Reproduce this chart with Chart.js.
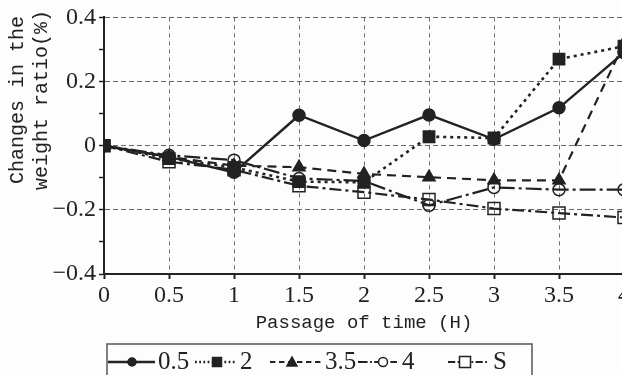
<!DOCTYPE html>
<html>
<head>
<meta charset="utf-8">
<script src="https://cdn.jsdelivr.net/npm/chart.js@4.4.1/dist/chart.umd.min.js"></script>
<style>
	html, body { margin: 0; padding: 0; background: #fdfdfd; overflow: hidden; }
	#wrap { position: relative; width: 660px; height: 375px; }
</style>
</head>
<body>
<div id="wrap"><canvas id="chart"></canvas></div>
<script>
'use strict';

// Data
var times = [0, 0.5, 1, 1.5, 2, 2.5, 3, 3.5, 4];
var series05 = [0, -0.035, -0.083, 0.095, 0.016, 0.096, 0.02, 0.118, 0.29];
var series2 = [0, -0.04, -0.068, -0.112, -0.114, 0.028, 0.024, 0.27, 0.31];
var series35 = [0, -0.035, -0.062, -0.067, -0.088, -0.098, -0.108, -0.108, 0.32];
var series4 = [0, -0.03, -0.045, -0.102, -0.11, -0.186, -0.13, -0.137, -0.137];
var seriesS = [0, -0.05, -0.075, -0.125, -0.145, -0.168, -0.196, -0.21, -0.224];
var seriesNames = ['0.5', '2', '3.5', '4', 'S'];
var yTitleLines = ['Changes in the', 'weight ratio(%)'];
var xTitle = 'Passage of time (H)';

var ink = '#222';
var serif = "'Liberation Serif', 'DejaVu Serif', serif";
var mono = "'Liberation Mono', monospace";

Chart.defaults.font.family = serif;

function toPoints(values) {
	return values.map(function(v, i) {
		return { x: times[i], y: v };
	});
}

function makeSet(name, values, dash, style, radius, filled, width) {
	return {
		label: name,
		data: toPoints(values),
		borderColor: ink,
		borderWidth: width,
		borderDash: dash,
		pointStyle: style,
		pointRadius: radius,
		pointBorderWidth: 1.5,
		pointBorderColor: ink,
		pointBackgroundColor: filled ? ink : 'rgba(0,0,0,0)',
		fill: false,
		tension: 0
	};
}

var datasets = [
	makeSet(seriesNames[0], series05, [], 'circle', 6, true, 2.4),
	makeSet(seriesNames[1], series2, [3, 4], 'rect', 8, true, 2.6),
	makeSet(seriesNames[2], series35, [9, 6], 'triangle', 7, true, 2.2),
	makeSet(seriesNames[3], series4, [16, 4, 3, 4], 'circle', 6, false, 2.2),
	makeSet(seriesNames[4], seriesS, [12, 4, 3, 4], 'rect', 8.5, false, 2.2)
];

function drawMarker(ctx, style, x, y, r, filled) {
	ctx.save();
	ctx.setLineDash([]);
	ctx.lineWidth = 1.5;
	ctx.strokeStyle = ink;
	ctx.fillStyle = filled ? ink : '#fdfdfd';
	ctx.beginPath();
	if (style === 'circle') {
		ctx.arc(x, y, r, 0, Math.PI * 2);
	} else if (style === 'rect') {
		ctx.rect(x - r, y - r, 2 * r, 2 * r);
	} else {
		ctx.moveTo(x, y - r);
		ctx.lineTo(x + r, y + r * 0.8);
		ctx.lineTo(x - r, y + r * 0.8);
		ctx.closePath();
	}
	ctx.fill();
	ctx.stroke();
	ctx.restore();
}

var decorPlugin = {
	id: 'decor',
	afterDraw: function(chart) {
		var ctx = chart.ctx;

		// y axis title, two rotated lines
		ctx.save();
		ctx.fillStyle = ink;
		ctx.font = '20px ' + mono;
		ctx.textAlign = 'center';
		ctx.textBaseline = 'middle';
		[18, 42].forEach(function(x, i) {
			ctx.save();
			ctx.translate(x, 100);
			ctx.rotate(-Math.PI / 2);
			ctx.fillText(yTitleLines[i], 0, 0);
			ctx.restore();
		});
		ctx.restore();

		// legend box
		ctx.save();
		ctx.strokeStyle = '#555';
		ctx.lineWidth = 1.5;
		ctx.strokeRect(107, 344, 425, 40);
		ctx.restore();

		var items = [
			{ x0: 108, x1: 155, mx: 132, tx: 158, r: 4, style: 'circle', filled: true },
			{ x0: 195, x1: 237, mx: 217, tx: 240, r: 4.5, style: 'rect', filled: true },
			{ x0: 270, x1: 322, mx: 292, tx: 325, r: 5, style: 'triangle', filled: true },
			{ x0: 358, x1: 397, mx: 383, tx: 402, r: 4.5, style: 'circle', filled: false },
			{ x0: 448, x1: 488, mx: 465, tx: 493, r: 5.5, style: 'rect', filled: false }
		];
		var ly = 362;
		items.forEach(function(it, i) {
			var ds = chart.data.datasets[i];
			ctx.save();
			ctx.strokeStyle = ink;
			ctx.lineWidth = ds.borderWidth;
			ctx.setLineDash(ds.borderDash.length ? ds.borderDash.map(function(d) { return d * 0.6; }) : []);
			ctx.beginPath();
			ctx.moveTo(it.x0, ly);
			ctx.lineTo(it.x1, ly);
			ctx.stroke();
			ctx.restore();
			drawMarker(ctx, it.style, it.mx, ly, it.r, it.filled);
			ctx.save();
			ctx.fillStyle = ink;
			ctx.font = '25px ' + serif;
			ctx.textBaseline = 'middle';
			ctx.fillText(seriesNames[i], it.tx, ly);
			ctx.restore();
		});
	}
};

var tickFont = { family: serif, size: 24 };

var options = {
	responsive: true,
	maintainAspectRatio: false,
	animation: false,
	layout: {
		padding: { top: 16, right: 36, bottom: 0, left: 0 }
	},
	scales: {
		x: {
			type: 'linear',
			min: 0,
			max: 4,
			afterFit: function(scale) { scale.height = 101; },
			border: { display: true, color: ink, width: 2, dash: [4, 4] },
			grid: {
				color: '#6a6a6a',
				lineWidth: 1,
				tickLength: 5,
				tickColor: ink,
				tickWidth: 2
			},
			ticks: {
				stepSize: 0.5,
				color: ink,
				font: tickFont,
				padding: 2,
				maxRotation: 0,
				callback: function(v) {
					return String(Math.round(v * 10) / 10);
				}
			},
			title: {
				display: true,
				text: xTitle,
				color: ink,
				font: { family: mono, size: 19 },
				padding: { top: 0, bottom: 41 }
			}
		},
		y: {
			min: -0.4,
			max: 0.4,
			afterFit: function(scale) { scale.width = 104; },
			border: { display: true, color: ink, width: 2, dash: [5, 3] },
			grid: {
				color: function(c) {
					var k = Math.round(c.tick.value * 10);
					return k % 2 === 0 ? '#6a6a6a' : 'rgba(0,0,0,0)';
				},
				lineWidth: 1,
				tickLength: 5,
				tickColor: ink,
				tickWidth: 1.5
			},
			ticks: {
				stepSize: 0.1,
				color: ink,
				font: tickFont,
				padding: 3,
				callback: function(v) {
					var k = Math.round(v * 10);
					if (k % 2 !== 0) return '';
					if (k === 0) return '0';
					return (k < 0 ? '\u2212' : '') + (Math.abs(k) / 10).toFixed(1);
				}
			}
		}
	},
	plugins: {
		legend: { display: false },
		tooltip: { enabled: false }
	}
};

var chart = new Chart(document.getElementById('chart'), {
	type: 'line',
	data: { datasets: datasets },
	options: options,
	plugins: [decorPlugin]
});
</script>
</body>
</html>
